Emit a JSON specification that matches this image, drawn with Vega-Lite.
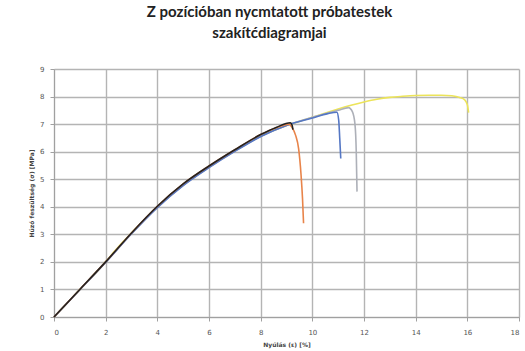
{
  "$schema": "https://vega.github.io/schema/vega-lite/v6.json",
  "autosize": "none",
  "width": 465,
  "height": 248,
  "padding": {"left": 54, "top": 69, "right": 6, "bottom": 34},
  "background": "white",
  "title": {
    "text": ["Z pozícióban nycmtatott próbatestek", "szakítćdiagramjai"],
    "font": "Lato",
    "fontSize": 15,
    "fontWeight": "bold",
    "color": "#222222",
    "anchor": "middle",
    "dx": -17,
    "offset": 24,
    "lineHeight": 21
  },
  "config": {
    "view": {"stroke": null},
    "axis": {
      "grid": true,
      "gridColor": "#b4b4b4",
      "gridWidth": 1.4,
      "gridOpacity": 1,
      "zindex": 0,
      "domainColor": "#a0a0a0",
      "tickColor": "#a0a0a0",
      "tickSize": 4,
      "labelFont": "DejaVu Sans",
      "labelFontSize": 7,
      "labelColor": "#555555",
      "titleFont": "DejaVu Sans",
      "titleFontSize": 6,
      "titleFontWeight": "bold",
      "titleColor": "#444444"
    }
  },
  "datasets": {
    "curves": [
      {"s": "E", "x": 0, "y": 0}, {"s": "E", "x": 1, "y": 1.0}, {"s": "E", "x": 2, "y": 2.0}, {"s": "E", "x": 2.4, "y": 2.45}, {"s": "E", "x": 3, "y": 3.05}, {"s": "E", "x": 4, "y": 4.0}, {"s": "E", "x": 5, "y": 4.8}, {"s": "E", "x": 6, "y": 5.45}, {"s": "E", "x": 7, "y": 6.04}, {"s": "E", "x": 8, "y": 6.57}, {"s": "E", "x": 9, "y": 6.95}, {"s": "E", "x": 10, "y": 7.25}, {"s": "E", "x": 11, "y": 7.55}, {"s": "E", "x": 12, "y": 7.8}, {"s": "E", "x": 12.5, "y": 7.9}, {"s": "E", "x": 13, "y": 7.97}, {"s": "E", "x": 13.5, "y": 8.01}, {"s": "E", "x": 14, "y": 8.04}, {"s": "E", "x": 14.5, "y": 8.05}, {"s": "E", "x": 15, "y": 8.05}, {"s": "E", "x": 15.4, "y": 8.03}, {"s": "E", "x": 15.7, "y": 7.97}, {"s": "E", "x": 15.9, "y": 7.88}, {"s": "E", "x": 16.0, "y": 7.7}, {"s": "E", "x": 16.05, "y": 7.42},

      {"s": "D", "x": 0, "y": 0}, {"s": "D", "x": 1, "y": 1.0}, {"s": "D", "x": 2, "y": 2.0}, {"s": "D", "x": 3, "y": 3.03}, {"s": "D", "x": 4, "y": 3.98}, {"s": "D", "x": 5, "y": 4.78}, {"s": "D", "x": 6, "y": 5.43}, {"s": "D", "x": 7, "y": 6.02}, {"s": "D", "x": 8, "y": 6.55}, {"s": "D", "x": 9, "y": 6.95}, {"s": "D", "x": 10, "y": 7.25}, {"s": "D", "x": 11, "y": 7.5}, {"s": "D", "x": 11.4, "y": 7.6}, {"s": "D", "x": 11.55, "y": 7.45}, {"s": "D", "x": 11.65, "y": 7.0}, {"s": "D", "x": 11.7, "y": 6.0}, {"s": "D", "x": 11.73, "y": 4.55},

      {"s": "C", "x": 0, "y": 0}, {"s": "C", "x": 1, "y": 0.99}, {"s": "C", "x": 2, "y": 1.98}, {"s": "C", "x": 3, "y": 3.02}, {"s": "C", "x": 4, "y": 3.97}, {"s": "C", "x": 5, "y": 4.77}, {"s": "C", "x": 6, "y": 5.42}, {"s": "C", "x": 7, "y": 6.01}, {"s": "C", "x": 8, "y": 6.55}, {"s": "C", "x": 9, "y": 6.95}, {"s": "C", "x": 10, "y": 7.22}, {"s": "C", "x": 10.6, "y": 7.38}, {"s": "C", "x": 10.95, "y": 7.43}, {"s": "C", "x": 11.02, "y": 7.15}, {"s": "C", "x": 11.06, "y": 6.5}, {"s": "C", "x": 11.1, "y": 5.75},

      {"s": "B", "x": 0, "y": 0}, {"s": "B", "x": 1, "y": 1.0}, {"s": "B", "x": 2, "y": 2.0}, {"s": "B", "x": 3, "y": 3.05}, {"s": "B", "x": 4, "y": 4.02}, {"s": "B", "x": 5, "y": 4.83}, {"s": "B", "x": 6, "y": 5.48}, {"s": "B", "x": 7, "y": 6.07}, {"s": "B", "x": 8, "y": 6.62}, {"s": "B", "x": 8.6, "y": 6.87}, {"s": "B", "x": 9.1, "y": 7.0}, {"s": "B", "x": 9.2, "y": 6.9}, {"s": "B", "x": 9.35, "y": 6.6}, {"s": "B", "x": 9.47, "y": 6.1}, {"s": "B", "x": 9.56, "y": 5.2}, {"s": "B", "x": 9.62, "y": 4.3}, {"s": "B", "x": 9.66, "y": 3.4},

      {"s": "A", "x": 0, "y": 0}, {"s": "A", "x": 1, "y": 1.0}, {"s": "A", "x": 2, "y": 2.0}, {"s": "A", "x": 3, "y": 3.05}, {"s": "A", "x": 4, "y": 4.02}, {"s": "A", "x": 5, "y": 4.83}, {"s": "A", "x": 6, "y": 5.48}, {"s": "A", "x": 7, "y": 6.07}, {"s": "A", "x": 8, "y": 6.62}, {"s": "A", "x": 8.6, "y": 6.88}, {"s": "A", "x": 9.15, "y": 7.05}, {"s": "A", "x": 9.22, "y": 6.95}, {"s": "A", "x": 9.25, "y": 6.8}
    ]
  },
  "data": {"name": "curves"},
  "mark": {"type": "line", "strokeWidth": 1.6, "interpolate": "monotone"},
  "encoding": {
    "x": {
      "field": "x", "type": "quantitative",
      "scale": {"domain": [0, 18], "nice": false},
      "axis": {"values": [0, 2, 4, 6, 8, 10, 12, 14, 16, 18], "grid": true, "gridColor": "#b4b4b4", "title": "Nyúlás (ε) [%]", "labelPadding": 7, "titlePadding": 6}
    },
    "y": {
      "field": "y", "type": "quantitative",
      "scale": {"domain": [0, 9], "nice": false},
      "axis": {"values": [0, 1, 2, 3, 4, 5, 6, 7, 8, 9], "grid": true, "gridColor": "#b4b4b4", "title": "Húzó feszültség (σ) [MPa]", "labelPadding": 6, "titlePadding": 5}
    },
    "color": {
      "field": "s", "type": "nominal",
      "scale": {"domain": ["E", "D", "C", "B", "A"], "range": ["#ece45a", "#adb0b8", "#5577c4", "#e8844a", "#222222"]},
      "legend": null
    }
  }
}
